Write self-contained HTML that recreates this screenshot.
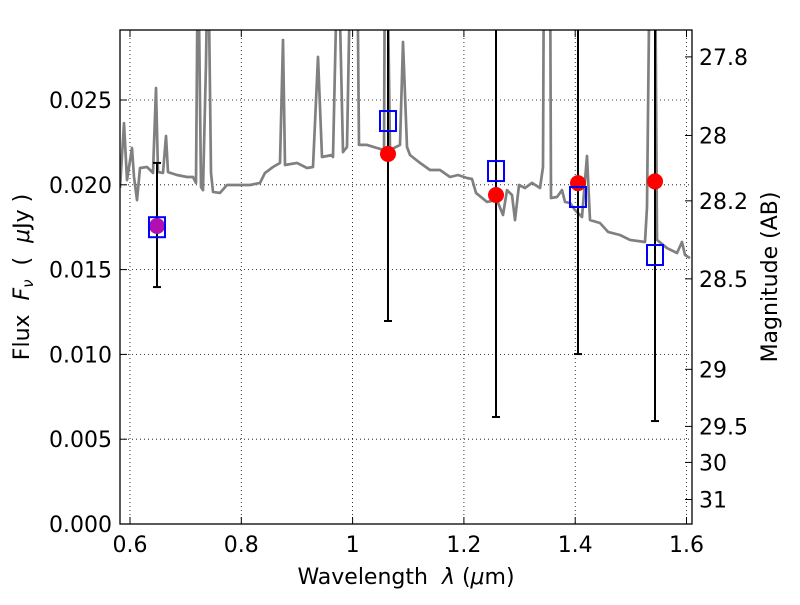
<!DOCTYPE html>
<html><head><meta charset="utf-8"><style>
body{margin:0;background:#fff;}
text{font-family:"DejaVu Sans","Liberation Sans",sans-serif;white-space:pre;}
</style></head><body>
<svg id="chart" width="800" height="600" xmlns="http://www.w3.org/2000/svg">
<defs><clipPath id="clip"><rect x="120" y="30" width="572" height="494"/></clipPath></defs>
<rect width="800" height="600" fill="#fff"/>
<g id="grid"></g>
<g id="spec" clip-path="url(#clip)"></g>
<g id="marks" clip-path="url(#clip)"></g>
<rect x="120" y="30" width="572" height="494" fill="none" stroke="#000" stroke-width="1.3"/>
<g id="axes"></g>
<text x="406" y="584" font-size="22" text-anchor="middle" xml:space="preserve">Wavelength  <tspan font-style="italic">λ</tspan> (<tspan font-style="italic">μ</tspan>m)</text>
<text transform="translate(29,277) rotate(-90)" font-size="22" text-anchor="middle" xml:space="preserve">Flux  <tspan font-style="italic">F</tspan><tspan font-style="italic" font-size="15" dy="4">ν</tspan><tspan dy="-4">  (  </tspan><tspan font-style="italic">μ</tspan>Jy )</text>
<text transform="translate(777,277) rotate(-90)" font-size="22" text-anchor="middle">Magnitude (AB)</text>
</svg>
<script>
const specWave=[0.5820,0.5892,0.5946,0.6036,0.6072,0.6126,0.6180,0.6305,0.6413,0.6467,0.6503,0.6593,0.6647,0.6683,0.6845,0.7024,0.7132,0.7186,0.7222,0.7276,0.7312,0.7366,0.7402,0.7456,0.7492,0.7617,0.7743,0.7923,0.8156,0.8336,0.8426,0.8570,0.8695,0.8749,0.8785,0.9001,0.9181,0.9288,0.9378,0.9450,0.9630,0.9648,0.9738,0.9828,0.9899,0.9971,1.0079,1.0115,1.0259,1.0439,1.0564,1.0582,1.0618,1.0672,1.0852,1.0906,1.0978,1.1031,1.1211,1.1391,1.1571,1.1750,1.1894,1.2056,1.2146,1.2217,1.2415,1.2595,1.2702,1.2774,1.2864,1.2918,1.2990,1.3098,1.3224,1.3367,1.3421,1.3439,1.3547,1.3565,1.3673,1.3763,1.3817,1.3907,1.3996,1.4122,1.4212,1.4266,1.4446,1.4589,1.4805,1.4985,1.5254,1.5290,1.5344,1.5434,1.5470,1.5650,1.5829,1.5919,1.5973,1.6063];
const specFlux=[0.01981,0.02364,0.02028,0.02217,0.02046,0.01910,0.02099,0.02105,0.02070,0.02571,0.02075,0.02070,0.02288,0.02075,0.02058,0.02046,0.02046,0.02011,0.035,0.01987,0.01969,0.02718,0.035,0.02070,0.01958,0.01952,0.01999,0.01999,0.01999,0.02011,0.02070,0.02105,0.02129,0.02854,0.02117,0.02129,0.02099,0.02105,0.02754,0.02164,0.02176,0.02164,0.035,0.02193,0.02223,0.035,0.035,0.02235,0.02235,0.02217,0.02205,0.035,0.035,0.02205,0.02235,0.02842,0.02223,0.02176,0.02129,0.02087,0.02087,0.02046,0.02058,0.02040,0.02034,0.01952,0.01899,0.01910,0.01822,0.01969,0.01940,0.01792,0.01999,0.01981,0.02011,0.01981,0.02105,0.035,0.035,0.01922,0.01928,0.01969,0.01899,0.01893,0.01851,0.01810,0.02170,0.01792,0.01775,0.01722,0.01704,0.01675,0.01663,0.01869,0.035,0.035,0.01675,0.01627,0.01598,0.01663,0.01586,0.01568];
const obsWave=[0.6485,1.0636,1.2577,1.4050,1.5434];
const obsFlux=[0.01757,0.02182,0.01940,0.02010,0.02020];
const errLow=[0.01397,0.01197,0.00631,0.01002,0.00607];
const errHigh=[0.02129,0.05,0.05,0.05,0.05];
const modelFlux=[0.01750,0.02376,0.02081,0.01928,0.01586];
const xTicks=[0.6,0.8,1.0,1.2,1.4,1.6];
const xTickLabels=["0.6","0.8","1","1.2","1.4","1.6"];
const yTicks=[0,0.005,0.010,0.015,0.020,0.025];
const yTickLabels=["0.000","0.005","0.010","0.015","0.020","0.025"];
const magTicks=[27.8,28,28.2,28.5,29,29.5,30,31];
const magTickLabels=["27.8","28","28.2","28.5","29","29.5","30","31"];

const NS="http://www.w3.org/2000/svg";
const X=v=>130+(v-0.6)*556.5;
const Y=v=>524-v*16960;
const magToFlux=m=>Math.pow(10,(23.9-m)/2.5);
function mk(tag,attrs,parent){const e=document.createElementNS(NS,tag);for(const k in attrs)e.setAttribute(k,attrs[k]);parent.appendChild(e);return e;}
const grid=document.getElementById('grid'),axes=document.getElementById('axes'),spec=document.getElementById('spec'),marks=document.getElementById('marks');
xTicks.forEach((t,i)=>{
 const x=X(t);
 let g=mk('line',{x1:x,x2:x,y1:30,y2:524,stroke:'#000','stroke-width':0.8,'stroke-dasharray':'1,3'},grid);
 
 mk('line',{x1:x,x2:x,y1:524,y2:517,stroke:'#000'},axes);
 mk('line',{x1:x,x2:x,y1:30,y2:37,stroke:'#000'},axes);
 let tx=mk('text',{x:x,y:552,'font-size':22,'text-anchor':'middle'},axes);tx.textContent=xTickLabels[i];
 
});
yTicks.forEach((t,i)=>{
 const y=Y(t);
 let g=mk('line',{x1:120,x2:692,y1:y,y2:y,stroke:'#000','stroke-width':0.8,'stroke-dasharray':'1,3'},grid);
 
 mk('line',{x1:120,x2:127,y1:y,y2:y,stroke:'#000'},axes);
 let tx=mk('text',{x:112,y:y+8,'font-size':22,'text-anchor':'end'},axes);tx.textContent=yTickLabels[i];
 
});
magTicks.forEach((m,i)=>{
 const y=Y(magToFlux(m));
 mk('line',{x1:692,x2:685,y1:y,y2:y,stroke:'#000'},axes);
 let tx=mk('text',{x:699,y:y+8,'font-size':22},axes);tx.textContent=magTickLabels[i];
 
});
let pts=specWave.map((w,i)=>X(w).toFixed(1)+','+Y(specFlux[i]).toFixed(1)).join(' ');
let pl=mk('polyline',{points:pts,fill:'none',stroke:'#808080','stroke-width':2.7,'stroke-linejoin':'round'},spec);

obsWave.forEach((w,i)=>{
 const x=X(w);
 let e=mk('line',{x1:x,x2:x,y1:Y(errHigh[i]),y2:Y(errLow[i]),stroke:'#000','stroke-width':2},marks);
 
 mk('line',{x1:x-4,x2:x+4,y1:Y(errLow[i]),y2:Y(errLow[i]),stroke:'#000','stroke-width':2},marks);
 mk('line',{x1:x-4,x2:x+4,y1:Y(errHigh[i]),y2:Y(errHigh[i]),stroke:'#000','stroke-width':2},marks);
});
obsWave.forEach((w,i)=>{
 let c=mk('circle',{cx:X(w),cy:Y(obsFlux[i]),r:8,fill:i===0?'#b010b0':'#ff0000'},marks);
 
 let s=mk('rect',{x:X(w)-8,y:Y(modelFlux[i])-10,width:16,height:20,fill:'none',stroke:'#0000ff','stroke-width':2},marks);
 
});
</script>
</body></html>
